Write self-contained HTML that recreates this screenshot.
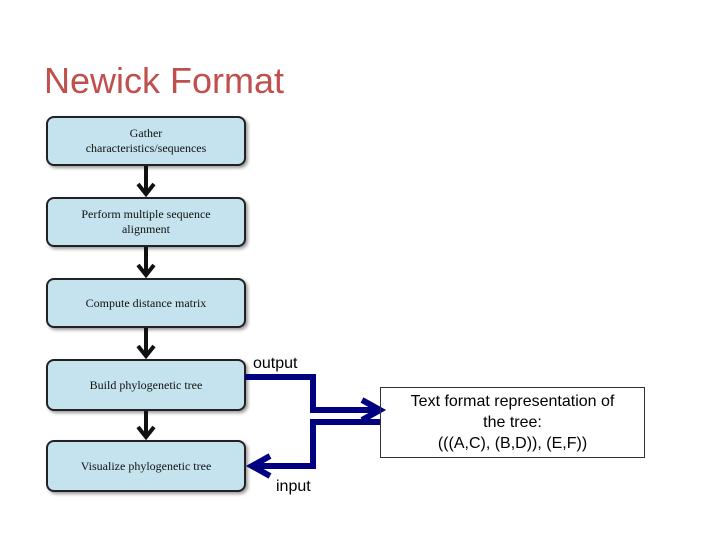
<!DOCTYPE html>
<html><head><style>
body{margin:0;width:720px;height:540px;background:#fff;position:relative;overflow:hidden;font-family:"Liberation Sans",sans-serif}
.t{position:absolute;left:44px;top:60px;font-size:36px;color:#c0504d}
.b{position:absolute;left:46px;width:196px;border:2px solid #222;border-radius:8px;background:#c5e3ee;box-shadow:2px 2px 3px #999;display:flex;align-items:center;justify-content:center;text-align:center;font-family:"Liberation Serif",serif;font-size:12px;line-height:15px;color:#111}
.l{position:absolute;font-size:16px;color:#000}
.tb{position:absolute;left:380px;top:387px;width:265px;height:71px;border:1px solid #333;text-align:center;font-size:16px;line-height:21px;padding-top:3px;box-sizing:border-box}
</style></head><body>
<div class="t">Newick Format</div>
<div class="b" style="top:116px;height:46px">Gather<br>characteristics/sequences</div>
<div class="b" style="top:197px;height:46px">Perform multiple sequence<br>alignment</div>
<div class="b" style="top:278px;height:46px">Compute distance matrix</div>
<div class="b" style="top:359px;height:48px">Build phylogenetic tree</div>
<div class="b" style="top:440px;height:48px">Visualize phylogenetic tree</div>
<svg width="720" height="540" style="position:absolute;left:0;top:0">
<g stroke="#111" stroke-width="4" fill="none">
<path d="M146 166V194M138 184l8 10 8-10"/>
<path d="M146 247V275M138 265l8 10 8-10"/>
<path d="M146 328V356M138 346l8 10 8-10"/>
<path d="M146 411V437M138 427l8 10 8-10"/>
</g>
<g stroke="#000080" stroke-width="6" fill="none">
<path d="M245 377H313V410H380"/>
<path d="M362 400l18 10-18 10"/>
<path d="M380 422H313V466H252"/>
<path d="M270 456l-18 10 18 10"/>
</g>
</svg>
<div class="l" style="left:253px;top:355px">output</div>
<div class="l" style="left:276px;top:478px">input</div>
<div class="tb">Text format representation of<br>the tree:<br>(((A,C), (B,D)), (E,F))</div>
</body></html>
